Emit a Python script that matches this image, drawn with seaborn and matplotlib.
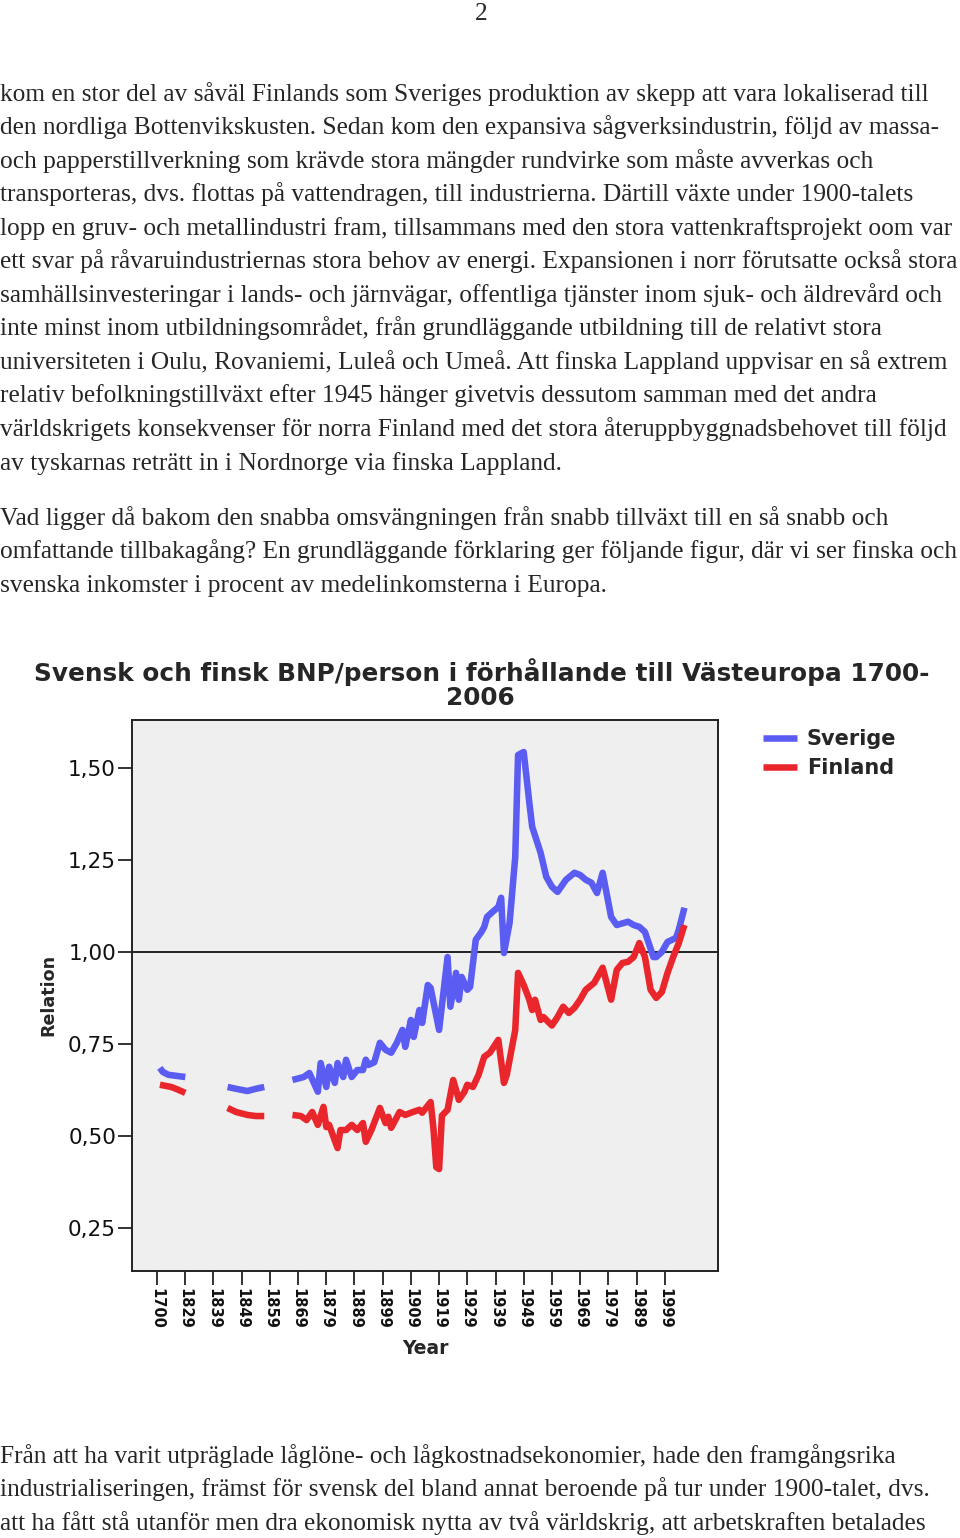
import matplotlib
matplotlib.use("Agg")
import matplotlib.pyplot as plt
import numpy as np
import pandas as pd
import seaborn as sns

# ---------------------------------------------------------------
# chart data
# x axis is categorical: 1700, then every year 1820-2006
tick_labels = ["1700", "1829", "1839", "1849", "1859", "1869", "1879", "1889", "1899",
               "1909", "1919", "1929", "1939", "1949", "1959", "1969", "1979", "1989", "1999"]

# nan = missing years (breaks in the line)
sve_years = [1820, 1821, 1823, 1826, 1829, 1835,
             1844, 1847, 1851, 1854, 1857, 1862,
             1867, 1871, 1873, 1876, 1877, 1879, 1880, 1882, 1883, 1885,
             1886, 1888, 1890, 1892, 1893, 1894, 1896, 1898, 1900, 1902,
             1904, 1906, 1907, 1909, 1910, 1912, 1913, 1915, 1916, 1919,
             1922, 1923, 1925, 1926, 1927, 1929, 1930, 1932, 1934, 1935,
             1936, 1938, 1940, 1941, 1942, 1944, 1946, 1947, 1949, 1951,
             1952, 1955, 1957, 1959, 1961, 1964, 1967, 1969, 1971, 1973,
             1975, 1977, 1980, 1982, 1986, 1988, 1990, 1992, 1995, 1996,
             1998, 2000, 2003, 2004, 2006]
sve_values = [0.685, 0.674, 0.666, 0.663, 0.660, np.nan,
              0.633, 0.628, 0.622, 0.628, 0.633, np.nan,
              0.652, 0.660, 0.671, 0.620, 0.698, 0.633, 0.688, 0.644, 0.698, 0.660,
              0.707, 0.660, 0.679, 0.679, 0.707, 0.693, 0.700, 0.753, 0.734, 0.726,
              0.753, 0.788, 0.742, 0.815, 0.769, 0.842, 0.807, 0.910, 0.902, 0.788,
              0.986, 0.851, 0.943, 0.870, 0.932, 0.897, 0.905, 1.033, 1.054, 1.068,
              1.095, 1.109, 1.122, 1.147, 0.997, 1.079, 1.258, 1.535, 1.543, 1.405,
              1.340, 1.269, 1.204, 1.177, 1.163, 1.196, 1.215, 1.209, 1.196, 1.188,
              1.160, 1.215, 1.095, 1.073, 1.082, 1.073, 1.068, 1.054, 0.986, 0.986,
              1.000, 1.027, 1.038, 1.060, 1.120]

fin_years = [1820, 1824, 1826, 1829, 1835,
             1844, 1847, 1851, 1854, 1857, 1862,
             1867, 1870, 1872, 1874, 1876, 1878, 1879, 1880, 1883, 1884,
             1886, 1888, 1890, 1892, 1893, 1895, 1898, 1900, 1901, 1902,
             1905, 1907, 1909, 1912, 1913, 1916, 1917, 1918, 1919, 1920,
             1922, 1924, 1926, 1928, 1929, 1931, 1933, 1935, 1937, 1940,
             1942, 1943, 1946, 1947, 1949, 1951, 1952, 1953, 1955, 1956,
             1959, 1961, 1963, 1965, 1967, 1969, 1971, 1974, 1977, 1980,
             1982, 1984, 1986, 1988, 1990, 1992, 1994, 1996, 1998, 2000,
             2002, 2004, 2006]
fin_values = [0.639, 0.633, 0.627, 0.617, np.nan,
              0.576, 0.565, 0.557, 0.554, 0.554, np.nan,
              0.557, 0.554, 0.543, 0.565, 0.530, 0.579, 0.524, 0.530, 0.467, 0.516,
              0.516, 0.530, 0.516, 0.535, 0.484, 0.516, 0.576, 0.535, 0.552, 0.522,
              0.565, 0.557, 0.563, 0.571, 0.563, 0.592, 0.520, 0.415, 0.410, 0.555,
              0.571, 0.652, 0.598, 0.620, 0.639, 0.633, 0.666, 0.715, 0.726, 0.761,
              0.644, 0.666, 0.788, 0.943, 0.910, 0.870, 0.842, 0.870, 0.815, 0.823,
              0.800, 0.823, 0.851, 0.834, 0.848, 0.870, 0.897, 0.916, 0.957, 0.870,
              0.951, 0.970, 0.973, 0.986, 1.024, 0.986, 0.897, 0.875, 0.891, 0.943,
              0.986, 1.024, 1.073]

# ---------------------------------------------------------------
# page text around the figure
page_number = "2"
para1 = [
    "kom en stor del av såväl Finlands som Sveriges produktion av skepp att vara lokaliserad till",
    "den nordliga Bottenvikskusten. Sedan kom den expansiva sågverksindustrin, följd av massa-",
    "och papperstillverkning som krävde stora mängder rundvirke som måste avverkas och",
    "transporteras, dvs. flottas på vattendragen, till industrierna. Därtill växte under 1900-talets",
    "lopp en gruv- och metallindustri fram, tillsammans med den stora vattenkraftsprojekt oom var",
    "ett svar på råvaruindustriernas stora behov av energi. Expansionen i norr förutsatte också stora",
    "samhällsinvesteringar i lands- och järnvägar, offentliga tjänster inom sjuk- och äldrevård och",
    "inte minst inom utbildningsområdet, från grundläggande utbildning till de relativt stora",
    "universiteten i Oulu, Rovaniemi, Luleå och Umeå. Att finska Lappland uppvisar en så extrem",
    "relativ befolkningstillväxt efter 1945 hänger givetvis dessutom samman med det andra",
    "världskrigets konsekvenser för norra Finland med det stora återuppbyggnadsbehovet till följd",
    "av tyskarnas reträtt in i Nordnorge via finska Lappland.",
]
para2 = [
    "Vad ligger då bakom den snabba omsvängningen från snabb tillväxt till en så snabb och",
    "omfattande tillbakagång? En grundläggande förklaring ger följande figur, där vi ser finska och",
    "svenska inkomster i procent av medelinkomsterna i Europa.",
]
para3 = [
    "Från att ha varit utpräglade låglöne- och lågkostnadsekonomier, hade den framgångsrika",
    "industrialiseringen, främst för svensk del bland annat beroende på tur under 1900-talet, dvs.",
    "att ha fått stå utanför men dra ekonomisk nytta av två världskrig, att arbetskraften betalades",
]

# ---------------------------------------------------------------
sns.set_theme(style="white")
plt.rcParams["font.family"] = ["DejaVu Sans"]

W, H = 960, 1538
fig = plt.figure(figsize=(W / 100, H / 100), dpi=100)
fig.patch.set_facecolor("white")

def fy(py):  # pixel row -> figure fraction
    return 1 - py / H

serif = "Liberation Serif"
fs_body = 18.3
fig.text(481 / W, fy(20), page_number, ha="center", va="baseline", family=serif, fontsize=fs_body)
for i, line in enumerate(para1):
    fig.text(0.0, fy(100.5 + 33.55 * i), line, va="baseline", family=serif, fontsize=fs_body)
for i, line in enumerate(para2):
    fig.text(0.0, fy(524.5 + 33.55 * i), line, va="baseline", family=serif, fontsize=fs_body)
for i, line in enumerate(para3):
    fig.text(0.0, fy(1462.5 + 33.55 * i), line, va="baseline", family=serif, fontsize=fs_body)

# chart title
fig.text(482 / W, fy(672), "Svensk och finsk BNP/person i förhållande till Västeuropa 1700-",
         ha="center", va="center", fontsize=17.8, fontweight="bold")
fig.text(480 / W, fy(698), "2006", ha="center", va="center", fontsize=17.8, fontweight="bold")

# ---------------------------------------------------------------
# data frame for seaborn
sve = pd.DataFrame({"year": sve_years, "value": sve_values, "country": "Sverige"})
fin = pd.DataFrame({"year": fin_years, "value": fin_values, "country": "Finland"})
df = pd.concat([sve, fin], ignore_index=True)
df["segment"] = df.groupby("country")["value"].transform(lambda s: s.isna().cumsum())
df = df.dropna(subset=["value"])
df["pos"] = np.where(df["year"] == 1700, 0, df["year"] - 1819)  # category index

ax = fig.add_axes([132 / W, fy(1271), 586 / W, 551 / H])
ax.set_facecolor("#efefef")

sns.lineplot(data=df, x="pos", y="value", hue="country", units="segment", estimator=None,
             hue_order=["Sverige", "Finland"],
             palette={"Sverige": "#5a5cf2", "Finland": "#e8262c"},
             linewidth=4.7, ax=ax)
for ln in ax.lines:
    ln.set_solid_capstyle("butt")

ax.axhline(1.0, color="#111111", lw=1.3, zorder=1)

tick_pos = [0] + [int(t) - 1819 for t in tick_labels[1:]]
ax.set_xticks(tick_pos)
ax.set_xticklabels(tick_labels, rotation=270, fontsize=10.5, fontweight="bold")
ax.set_yticks([0.25, 0.5, 0.75, 1.0, 1.25, 1.5])
ax.set_yticklabels(["0,25", "0,50", "0,75", "1,00", "1,25", "1,50"], fontsize=15.5)
ax.set_xlim(-8.9, 198.9)
ax.set_ylim(0.133, 1.630)

ax.tick_params(axis="both", direction="out", length=10, width=1.3, color="#222222",
               labelcolor="#111111", bottom=True, left=True)
ax.tick_params(axis="x", pad=2)
ax.tick_params(axis="y", pad=1.5)
for sp in ax.spines.values():
    sp.set_visible(True)
    sp.set_color("#222222")
    sp.set_linewidth(1.4)

ax.set_xlabel("Year", fontsize=13.5, fontweight="bold", va="center")
ax.set_ylabel("Relation", fontsize=12.6, fontweight="bold", va="center")
ax.xaxis.set_label_coords((425 - 132) / 586, (1271 - 1348) / 551)
ax.yaxis.set_label_coords((48 - 132) / 586, (1271 - 995) / 551)

handles, labels = ax.get_legend_handles_labels()
ax.legend(handles, labels, loc="upper left", bbox_to_anchor=(763 / W, fy(729)),
          bbox_transform=fig.transFigure, frameon=False, borderpad=0, borderaxespad=0,
          handlelength=1.65, handletextpad=0.45, labelspacing=0.45,
          prop={"size": 15, "weight": "bold"})

fig.savefig("out.png", dpi=100)
